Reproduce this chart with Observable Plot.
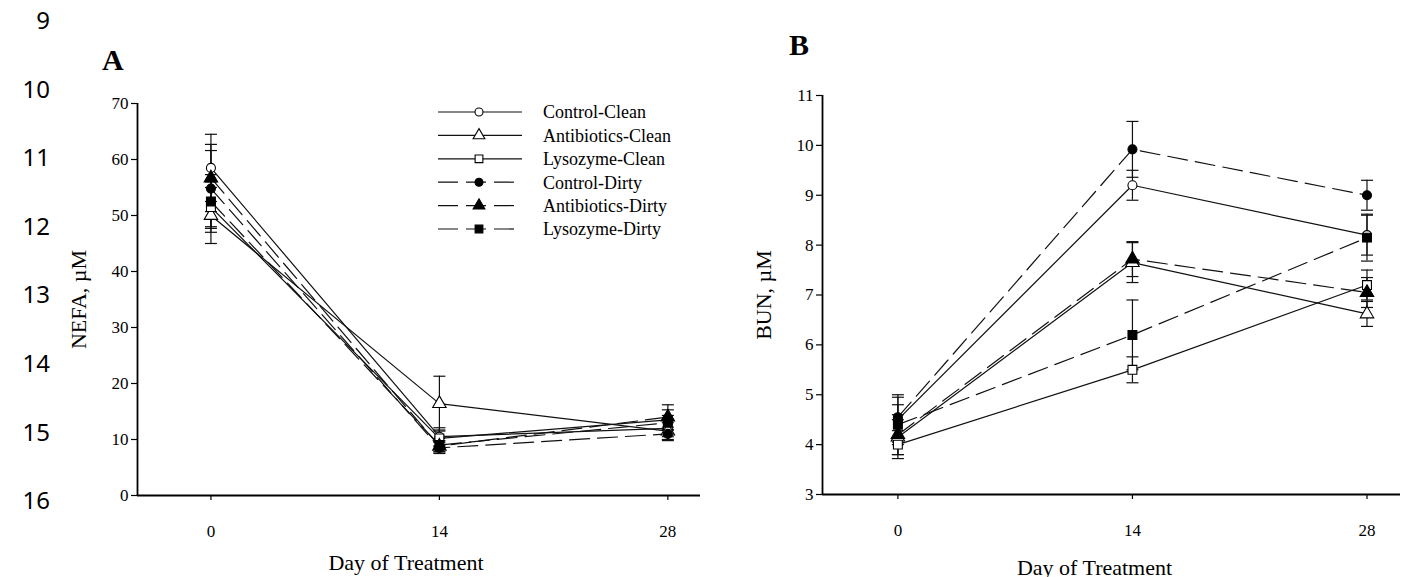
<!DOCTYPE html>
<html><head><meta charset="utf-8">
<script src="https://cdn.jsdelivr.net/npm/d3@7"></script>
<script src="https://cdn.jsdelivr.net/npm/@observablehq/plot@0.6"></script>
<style>
html,body{margin:0;padding:0;background:#fff;}
body{width:1402px;height:577px;position:relative;overflow:hidden;font-family:"Liberation Serif",serif;color:#000;}
svg text{font-family:"Liberation Serif",serif !important;}
g[aria-label="x-axis tick label"], g[aria-label="y-axis tick label"]{font-size:17px !important;font-variant:normal !important;}
g[aria-label="x-axis tick label"] text, g[aria-label="y-axis tick label"] text{font-size:17px !important;}
.ln{position:absolute;left:0;width:50px;text-align:right;font-family:"Noto Sans",sans-serif;font-size:24px;line-height:24px;}
.pl{position:absolute;font-family:"Liberation Serif",serif;font-weight:bold;font-size:30px;line-height:30px;}
</style></head><body>
<script>
// ---------- data ----------
const days = [0, 14, 28];
const series = ["Control-Clean","Antibiotics-Clean","Lysozyme-Clean","Control-Dirty","Antibiotics-Dirty","Lysozyme-Dirty"];
const shapes = ["circle","triangle","square","circle","triangle","square"];
const filled = [false,false,false,true,true,true];
const nefaMean = [[58.5,10.5,12.0],[50.0,16.4,11.5],[51.5,10.2,13.5],[54.8,8.5,11.0],[56.7,8.8,14.0],[52.5,9.0,13.0]];
const nefaSE   = [[6.0,1.6,1.5],[5.0,4.9,1.5],[4.5,1.5,1.8],[6.8,1.0,1.2],[6.0,1.0,2.2],[4.8,1.2,1.3]];
const bunMean  = [[4.5,9.2,8.2],[4.15,7.65,6.62],[4.0,5.5,7.2],[4.55,9.92,9.0],[4.2,7.72,7.05],[4.4,6.2,8.15]];
const bunSE    = [[0.45,0.3,0.4],[0.35,0.4,0.25],[0.28,0.26,0.3],[0.45,0.56,0.3],[0.4,0.35,0.3],[0.4,0.7,0.47]];
const nefaTicks = [0,10,20,30,40,50,60,70];
const bunTicks = [3,4,5,6,7,8,9,10,11];
const lineNumbers = [9,10,11,12,13,14,15,16];
const xLabel = "Day of Treatment";

// ---------- helpers ----------
const cap = {draw(ctx){ ctx.moveTo(-6,0); ctx.lineTo(6,0); }};
const dash = "20,8";
const xDomain = [-4.5, 30];

function rows(means, ses, i){
  return days.map((d,j)=>({series:series[i], day:d, mean:means[i][j], lo:means[i][j]-ses[i][j], hi:means[i][j]+ses[i][j]}));
}

function panel(o){
  const marks = [
    Plot.ruleY([o.yDomain[0]], {stroke:"#000", strokeWidth:1.8}),
    Plot.ruleX([xDomain[0]], {stroke:"#000", strokeWidth:1.8}),
    Plot.axisY({ticks:o.yTicks, tickSize:6, tickPadding:3, fontSize:17, label:null, strokeWidth:1.2}),
    Plot.axisX({ticks:days, tickSize:5, tickPadding:24, fontSize:17, label:null, strokeWidth:1.2}),
    Plot.text([o.yLabel], {frameAnchor:"left", textAnchor:"middle", lineAnchor:"middle", dx:-o.yLabelOff, rotate:-90, fontSize:22}),
    Plot.text([xLabel], {frameAnchor:"bottom", textAnchor:"middle", lineAnchor:"middle", dx:o.xLabelDx, dy:o.xLabelDy, fontSize:22})
  ];
  series.forEach((s,i)=>{
    const r = rows(o.means, o.ses, i);
    marks.push(Plot.line(r, {x:"day", y:"mean", stroke:"#111", strokeWidth:1.2, strokeDasharray: filled[i] ? dash : null}));
  });
  series.forEach((s,i)=>{
    const r = rows(o.means, o.ses, i);
    marks.push(Plot.ruleX(r, {x:"day", y1:"lo", y2:"hi", stroke:"#111", strokeWidth:1.2}));
    marks.push(Plot.dot(r, {x:"day", y:"lo", symbol:cap, r:6, fill:"none", stroke:"#111", strokeWidth:1.2}));
    marks.push(Plot.dot(r, {x:"day", y:"hi", symbol:cap, r:6, fill:"none", stroke:"#111", strokeWidth:1.2}));
  });
  series.forEach((s,i)=>{
    const r = rows(o.means, o.ses, i);
    marks.push(Plot.dot(r, {x:"day", y:"mean", symbol:shapes[i], r: shapes[i]==="circle"?4.5:5, fill: filled[i]?"#000":"#fff", stroke:"#000", strokeWidth:1.1}));
  });
  return Plot.plot({
    width:o.width, height:577,
    marginLeft:o.ml, marginRight:o.mr, marginTop:o.mt, marginBottom:o.mb,
    x:{domain:xDomain},
    y:{domain:o.yDomain},
    style:{fontFamily:"Liberation Serif, serif", fontSize:"17px", color:"#000", background:"transparent", overflow:"visible"},
    marks
  });
}

function place(node, left, top){
  node.style.position = "absolute"; node.style.left = left+"px"; node.style.top = top+"px";
  document.body.appendChild(node);
}

// Panel A
const pa = panel({means:nefaMean, ses:nefaSE, yDomain:[0,70], yTicks:nefaTicks, width:710, ml:137, mr:10, mt:103, mb:82,
  yLabel:"NEFA, µM", yLabelOff:59, xLabelDx:-13, xLabelDy:67});
place(pa, 0, 0);
// Panel B
const pb = panel({means:bunMean, ses:bunSE, yDomain:[3,11], yTicks:bunTicks, width:692, ml:112, mr:2, mt:95, mb:83,
  yLabel:"BUN, µM", yLabelOff:59, xLabelDx:-17, xLabelDy:73});
place(pb, 710, 0);

// Legend (panel A)
const lg = d3.create("svg").attr("width",300).attr("height",160)
  .style("font-family","Liberation Serif, serif").style("overflow","visible");
series.forEach((s,i)=>{
  const y = 12 + i*23.4;
  lg.append("line").attr("x1",8).attr("x2",92).attr("y1",y).attr("y2",y)
    .attr("stroke","#111").attr("stroke-width",1.2).attr("stroke-dasharray", filled[i]?dash:null);
  const sym = {circle:d3.symbolCircle, triangle:d3.symbolTriangle, square:d3.symbolSquare}[shapes[i]];
  lg.append("path").attr("d", d3.symbol(sym, shapes[i]==="circle"?50:60)())
    .attr("transform",`translate(49,${y})`).attr("fill", filled[i]?"#000":"#fff").attr("stroke","#000").attr("stroke-width",1.1);
  lg.append("text").attr("x",113).attr("y",y).attr("dy","0.35em").attr("font-size",18).text(s);
});
place(lg.node(), 430, 100);

// Line numbers
lineNumbers.forEach((n,i)=>{
  const d = document.createElement("div"); d.className="ln"; d.textContent=n;
  d.style.top = (20 + i*68.6 - 12)+"px"; document.body.appendChild(d);
});
// Panel letters
[["A",102,45],["B",789,30]].forEach(([t,x,y])=>{
  const d = document.createElement("div"); d.className="pl"; d.textContent=t;
  d.style.left=x+"px"; d.style.top=y+"px"; document.body.appendChild(d);
});
</script>
</body></html>
